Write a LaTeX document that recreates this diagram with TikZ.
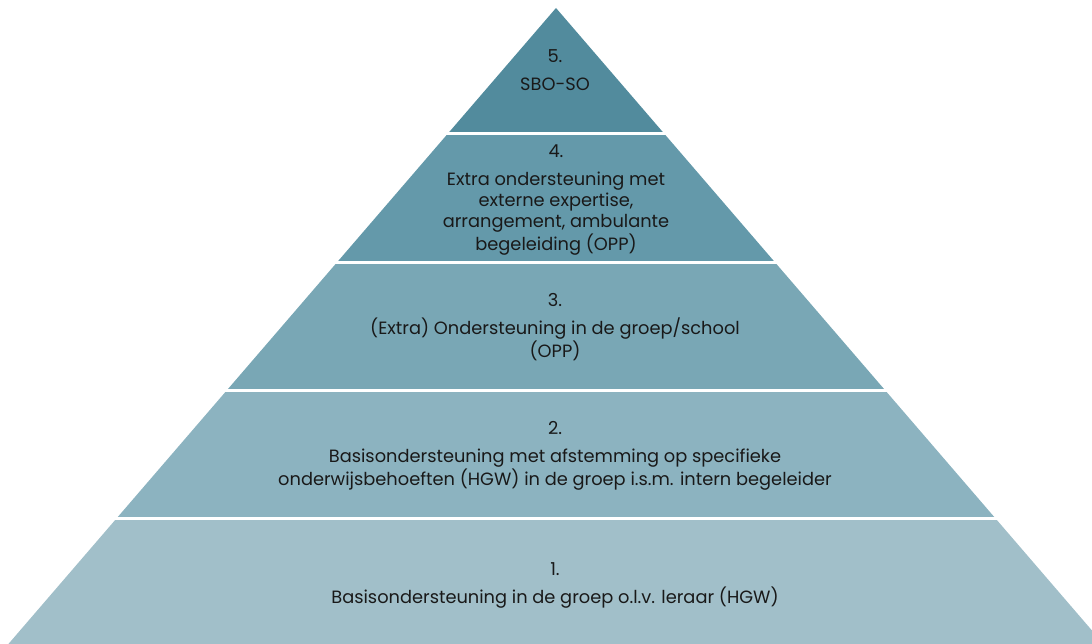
\documentclass[tikz,border=0pt]{standalone}
\usepackage{fontspec}
\setmainfont{Poppins}
\usetikzlibrary{calc}

\definecolor{levone}{RGB}{161,191,201}
\definecolor{levtwo}{RGB}{140,179,192}
\definecolor{levthree}{RGB}{121,167,181}
\definecolor{levfour}{RGB}{100,153,170}
\definecolor{levfive}{RGB}{82,139,157}
\definecolor{tekst}{RGB}{25,25,25}

\tikzset{
  laag/.style={align=center, text=tekst, font=\fontsize{17.8}{21}\selectfont, inner sep=0pt},
}

\begin{document}
\begin{tikzpicture}[x=1pt,y=-1pt]

\useasboundingbox (0,0) rectangle (1092,644);

\coordinate (top) at (556,8);
\coordinate (L) at (8.4,644);
\coordinate (R) at (1103.6,644);

\begin{scope}
\clip (top) -- (R) -- (L) -- cycle;
\fill[levfive]  (0,0)   rectangle (1110,132);
\fill[levfour]  (0,135) rectangle (1110,261);
\fill[levthree] (0,264) rectangle (1110,389);
\fill[levtwo]   (0,392) rectangle (1110,517);
\fill[levone]   (0,520) rectangle (1110,644);
\end{scope}

\node[laag] (sbo) at (555,70) {5.\\[7pt]SBO-SO};
\node[laag] (extern) at (556,200) {4.\\[7pt]Extra ondersteuning met\\externe expertise,\\arrangement, ambulante\\begeleiding (OPP)};
\node[laag] (school) at (555,327) {3.\\[7pt](Extra) Ondersteuning in de groep/school\\(OPP)};
\node[laag] (afstem) at (555,456) {2.\\[7pt]Basisondersteuning met afstemming op specifieke\\onderwijsbehoeften (HGW) in de groep i.s.m. intern begeleider};
\node[laag] (basis) at (555,585) {1.\\[7pt]Basisondersteuning in de groep o.l.v. leraar (HGW)};

\end{tikzpicture}
\end{document}
